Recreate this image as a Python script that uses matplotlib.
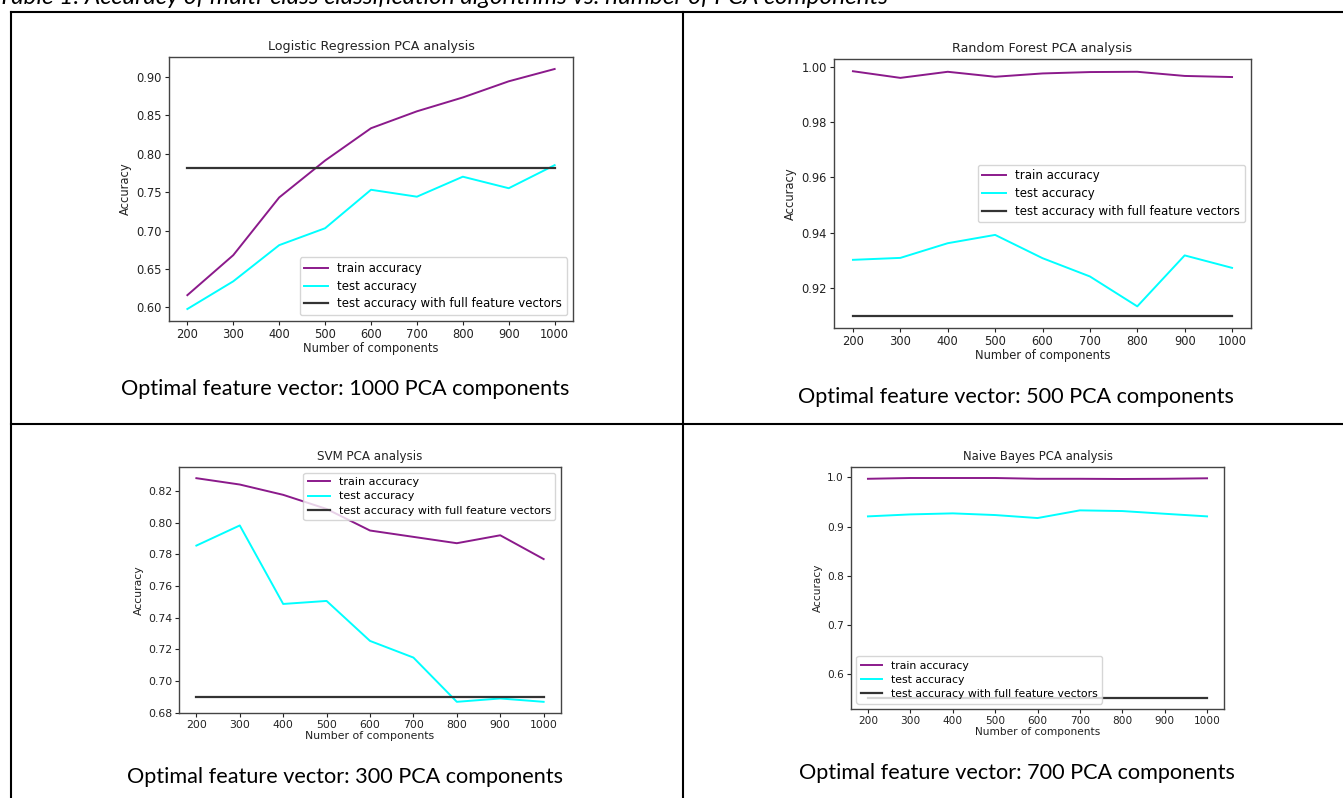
import matplotlib
matplotlib.use('Agg')
import matplotlib.pyplot as plt
from matplotlib.lines import Line2D

# Number of PCA components (x axis for every panel)
components = [200, 300, 400, 500, 600, 700, 800, 900, 1000]

# Logistic Regression
lr_train = [0.616, 0.668, 0.743, 0.791, 0.833, 0.855, 0.873, 0.894, 0.910]
lr_test = [0.598, 0.634, 0.681, 0.703, 0.753, 0.744, 0.770, 0.755, 0.785]
lr_full = 0.781

# Random Forest
rf_train = [0.9983, 0.9959, 0.9981, 0.9963, 0.9975, 0.9980, 0.9981, 0.9966, 0.9962]
rf_test = [0.9302, 0.9309, 0.9362, 0.9392, 0.9308, 0.9242, 0.9134, 0.9318, 0.9273]
rf_full = 0.910

# SVM
svm_train = [0.828, 0.824, 0.8175, 0.8086, 0.795, 0.791, 0.787, 0.792, 0.777]
svm_test = [0.7855, 0.7982, 0.7487, 0.7506, 0.7254, 0.7149, 0.687, 0.6891, 0.687]
svm_full = 0.690

# Naive Bayes
nb_train = [0.997, 0.9986, 0.9986, 0.9986, 0.997, 0.997, 0.9966, 0.997, 0.998]
nb_test = [0.9207, 0.9247, 0.9268, 0.9234, 0.9173, 0.9329, 0.9315, 0.926, 0.9207]
nb_full = 0.552

titles = ['Logistic Regression PCA analysis', 'Random Forest PCA analysis',
          'SVM PCA analysis', 'Naive Bayes PCA analysis']
captions = ['Optimal feature vector: 1000 PCA components',
            'Optimal feature vector: 500 PCA components',
            'Optimal feature vector: 300 PCA components',
            'Optimal feature vector: 700 PCA components']
header = 'Table 1: Accuracy of multi-class classification algorithms vs. number of PCA components'

W, H = 1343, 798
fig = plt.figure(figsize=(W / 100, H / 100), dpi=100)
fig.patch.set_facecolor('white')


def px_axes(l, t, r, b):
    return fig.add_axes([l / W, 1 - b / H, (r - l) / W, (b - t) / H])


def draw_panel(ax, train, test, full, title, loc, fs, yticks=None):
    ax.plot(components, train, color='#8b1a8b', lw=1.4, label='train accuracy')
    ax.plot(components, test, color='#00ffff', lw=1.4, label='test accuracy')
    ax.plot(components, [full] * len(components), color='#333333', lw=1.6,
            label='test accuracy with full feature vectors')
    ax.set_xticks(components)
    if yticks is not None:
        ax.set_yticks(yticks)
    ax.set_title(title, fontsize=fs + 0.8, color='#222222', pad=5)
    ax.set_xlabel('Number of components', fontsize=fs, color='#222222', labelpad=1)
    ax.set_ylabel('Accuracy', fontsize=fs, color='#222222', labelpad=3)
    ax.tick_params(labelsize=fs, colors='#222222', length=3, width=0.8, pad=2)
    for s in ax.spines.values():
        s.set_color('#444444')
        s.set_linewidth(1.0)
    ax.legend(loc=loc, fontsize=fs + 0.2, framealpha=0.8, edgecolor='#cccccc',
              handlelength=2.0, borderpad=0.4, labelspacing=0.4)


ax1 = px_axes(169, 57, 573, 321)
draw_panel(ax1, lr_train, lr_test, lr_full, titles[0], 'lower right', 8.3,
           [0.60, 0.65, 0.70, 0.75, 0.80, 0.85, 0.90])
ax1.yaxis.set_major_formatter(matplotlib.ticker.FormatStrFormatter('%.2f'))

ax2 = px_axes(834, 59, 1251, 328)
draw_panel(ax2, rf_train, rf_test, rf_full, titles[1], 'center right', 8.3,
           [0.92, 0.94, 0.96, 0.98, 1.00])
ax2.yaxis.set_major_formatter(matplotlib.ticker.FormatStrFormatter('%.2f'))

ax3 = px_axes(179, 467, 561, 713)
draw_panel(ax3, svm_train, svm_test, svm_full, titles[2], 'upper right', 7.8,
           [0.68, 0.70, 0.72, 0.74, 0.76, 0.78, 0.80, 0.82])
ax3.yaxis.set_major_formatter(matplotlib.ticker.FormatStrFormatter('%.2f'))

ax4 = px_axes(851, 467, 1224, 709)
draw_panel(ax4, nb_train, nb_test, nb_full, titles[3], 'lower left', 7.6,
           [0.6, 0.7, 0.8, 0.9, 1.0])

# table frame
lw = 1.5
fig.add_artist(Line2D([11 / W, 1], [1 - 12 / H, 1 - 12 / H], color='black', lw=lw))
fig.add_artist(Line2D([11 / W, 1], [1 - 424 / H, 1 - 424 / H], color='black', lw=lw))
fig.add_artist(Line2D([11 / W, 11 / W], [0, 1 - 12 / H], color='black', lw=lw))
fig.add_artist(Line2D([683 / W, 683 / W], [0, 1 - 12 / H], color='black', lw=lw))

# captions
cap_pos = [(345, 389), (1016, 397), (345, 777), (1017, 773)]
for (cx, cy), txt in zip(cap_pos, captions):
    fig.text(cx / W, 1 - cy / H, txt, ha='center', va='center',
             fontsize=15.6, family='Lato', color='black')

# header, cut off at the top edge like in the source document
fig.text(-2 / W, 1 - 4 / H, header, ha='left', va='baseline',
         fontsize=17.5, family='Lato', style='italic', color='black')

plt.savefig('out.png', dpi=100)
